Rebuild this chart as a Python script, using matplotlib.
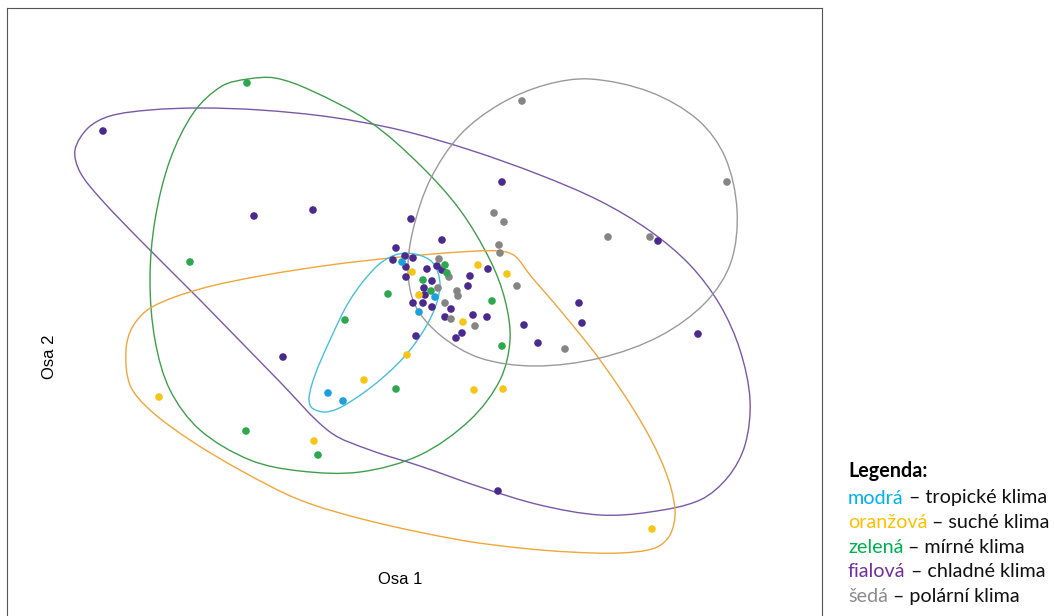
import numpy as np
import matplotlib.pyplot as plt
from matplotlib.path import Path
from matplotlib.patches import PathPatch

# ordination scores (axis units = picture units, y grows downwards)
purple_x = [103, 254, 313, 502, 411, 442, 658, 396, 393, 405, 413, 406, 406, 427, 437, 442, 432, 424, 425,
            413, 423, 432, 451, 445, 470, 468, 488, 473, 487, 462, 456, 416, 524, 538, 579, 582, 698, 283, 498]
purple_y = [131, 216, 210, 182, 219, 240, 241, 248, 260, 256, 258, 267, 277, 269, 266, 270, 281, 288, 295,
            303, 303, 307, 309, 317, 276, 286, 269, 315, 317, 333, 338, 336, 325, 343, 303, 323, 334, 357, 491]

green_x = [247, 190, 388, 345, 396, 246, 318, 445, 447, 423, 431, 492, 502]
green_y = [83, 262, 294, 320, 389, 431, 455, 265, 273, 280, 291, 301, 346]

yellow_x = [159, 314, 364, 407, 474, 503, 652, 412, 419, 478, 507, 463]
yellow_y = [397, 441, 380, 355, 390, 389, 529, 272, 295, 265, 274, 322]

blue_x = [328, 343, 402, 435, 419]
blue_y = [393, 401, 262, 297, 312]

grey_x = [522, 727, 494, 504, 608, 650, 499, 500, 439, 449, 438, 457, 458, 445, 451, 517, 475, 565]
grey_y = [101, 182, 213, 222, 237, 237, 245, 253, 259, 277, 288, 291, 296, 303, 319, 286, 326, 349]

# group outlines (smoothed hulls)
purple_hx = [75, 88, 110, 150, 200, 260, 330, 400, 470, 540, 600, 650, 690, 720, 740, 750, 745, 728,
             700, 650, 600, 540, 480, 420, 370, 330, 280, 200, 140, 100, 80]
purple_hy = [150, 128, 116, 110, 108, 110, 117, 130, 150, 175, 201, 231, 265, 305, 350, 400, 445, 477,
             500, 512, 515, 505, 487, 466, 450, 432, 382, 300, 240, 198, 172]

green_hx = [248, 222, 194, 170, 155, 150, 155, 170, 200, 250, 300, 360, 420, 470, 500, 510, 505, 490,
            460, 420, 370, 310, 275]
green_hy = [79, 86, 112, 160, 220, 280, 340, 390, 430, 460, 471, 472, 455, 420, 380, 340, 300, 260,
            210, 165, 122, 90, 78]

orange_hx = [126, 133, 152, 200, 260, 330, 400, 460, 500, 515, 530, 560, 600, 640, 665, 675, 670, 655,
             620, 570, 520, 460, 370, 300, 240, 190, 150, 130]
orange_hy = [350, 326, 307, 289, 276, 265, 257, 252, 251, 256, 275, 310, 360, 420, 470, 510, 535, 548,
             553, 552, 548, 540, 521, 500, 470, 440, 410, 385]

blue_hx = [312, 326, 345, 380, 410, 432, 440, 433, 415, 395, 375, 350, 330, 315, 309]
blue_hy = [408, 412, 405, 380, 350, 315, 285, 263, 254, 255, 268, 300, 340, 375, 398]

grey_hx = [590, 650, 698, 725, 737, 731, 706, 660, 600, 535, 480, 440, 415, 408, 413, 430, 460, 500, 545]
grey_hy = [79, 92, 120, 157, 210, 262, 302, 336, 358, 366, 358, 335, 305, 270, 230, 180, 135, 104, 85]


def closed_curve(xs, ys):
    # closed outline through the anchors, chord-scaled cubic Bezier segments
    p = np.column_stack([xs, ys]).astype(float)
    n = len(p)
    d = np.linalg.norm(np.roll(p, -1, axis=0) - p, axis=1)  # d[i] = |p[i+1]-p[i]|
    tang = (np.roll(p, -1, axis=0) - np.roll(p, 1, axis=0)) / (np.roll(d, 1) + d)[:, None]
    verts = [p[0]]
    codes = [Path.MOVETO]
    for i in range(n):
        j = (i + 1) % n
        verts += [p[i] + tang[i] * d[i] / 3, p[j] - tang[j] * d[i] / 3, p[j]]
        codes += [Path.CURVE4] * 3
    return Path(verts, codes)


W, H = 1054, 616
fig = plt.figure(figsize=(W / 100, H / 100), dpi=100)
ax = fig.add_axes([7 / W, -40 / H, 815 / W, 648 / H])
ax.set_xlim(7, 822)
ax.set_ylim(656, 8)
ax.set_xticks([])
ax.set_yticks([])
for s in ax.spines.values():
    s.set_color('#555555')
    s.set_linewidth(0.8)

hulls = [(purple_hx, purple_hy, '#7a58a8'),
         (green_hx, green_hy, '#3f9e4c'),
         (orange_hx, orange_hy, '#f0a63a'),
         (blue_hx, blue_hy, '#45c0de'),
         (grey_hx, grey_hy, '#9a9a9a')]
for hx, hy, c in hulls:
    ax.add_patch(PathPatch(closed_curve(hx, hy), fill=False, edgecolor=c, lw=1.0))

groups = [(purple_x, purple_y, '#4b2a8e'),
          (grey_x, grey_y, '#858585'),
          (green_x, green_y, '#2ea84f'),
          (yellow_x, yellow_y, '#f5c518'),
          (blue_x, blue_y, '#1ca0dc')]
for gx, gy, c in groups:
    ax.scatter(gx, gy, s=30, color=c, edgecolors='none', zorder=3)

ax.text(400, 580, 'Osa 1', ha='center', va='center', fontsize=12, family='Liberation Sans')
ax.text(50, 357, 'Osa 2', ha='center', va='center', rotation=90, fontsize=12, family='Liberation Sans')

# legend on the right
lx = 848 / W
fs = 14.2
fig.text(lx, 1 - 471 / H, 'Legenda:', fontsize=fs, fontweight='bold', family='Lato', va='center')
legend = [('modrá', '#00b0f0', 'tropické klima'),
          ('oranžová', '#ffc000', 'suché klima'),
          ('zelená', '#00b050', 'mírné klima'),
          ('fialová', '#7030a0', 'chladné klima'),
          ('šedá', '#8c8c8c', 'polární klima')]
r = fig.canvas.get_renderer()
for i, (name, c, desc) in enumerate(legend):
    y = 1 - (498 + 24.6 * i) / H
    t = fig.text(lx, y, name, color=c, fontsize=fs, family='Lato', va='center')
    bb = t.get_window_extent(renderer=r)
    fig.text(bb.x1 / W, y, ' – ' + desc, color='#111111', fontsize=fs, family='Lato', va='center')

fig.savefig('out.png', dpi=100)
